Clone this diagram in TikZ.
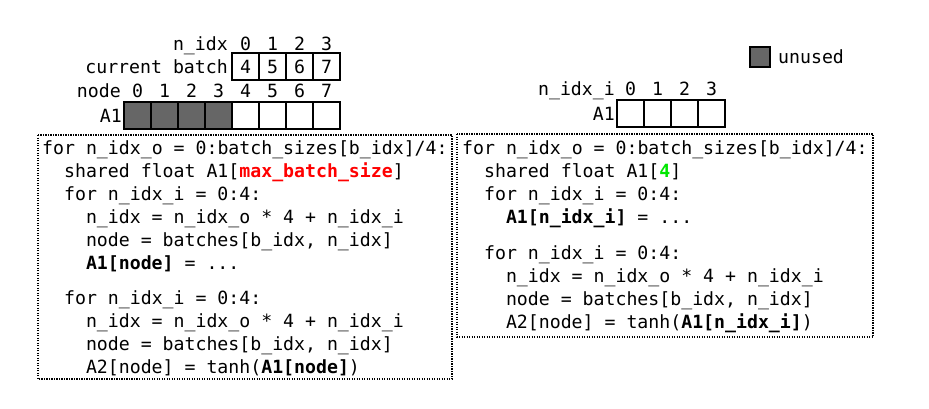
\documentclass[tikz,border=0pt]{standalone}
\usepackage{fontspec}
\setmonofont{DejaVu Sans Mono}
\newcommand\codefont{\ttfamily\fontsize{18.2}{23}\selectfont}
\definecolor{unusedgray}{gray}{0.4}
\definecolor{brightgreen}{RGB}{0,230,0}
\tikzset{
  code/.style={anchor=base west, inner sep=0pt, font=\codefont},
  lbl/.style={anchor=base east, inner sep=0pt, font=\codefont},
  idx/.style={anchor=base, inner sep=0pt, font=\codefont},
  cell/.style={draw, line width=1.1pt, minimum width=27pt, minimum height=27pt, inner sep=0pt, font=\codefont},
  unusedcell/.style={cell, fill=unusedgray},
  codebox/.style={draw, line width=1.1pt, dash pattern=on 1.1pt off 1.4pt},
}
\begin{document}
\begin{tikzpicture}[x=1pt,y=-1pt]
\useasboundingbox (0,0) rectangle (929,408);

% ---------- left array illustration ----------
\node[lbl] (lnidx) at (228,50) {n\_idx};
\node[lbl] (lcur) at (228,73) {current batch};
\node[lbl] (lnode) at (121,97) {node};
\node[lbl] (lA1) at (122,122) {A1};
\foreach \j/\v in {0/4,1/5,2/6,3/7}{
  \node[idx] (ni\j) at (245.5+27*\j,50) {\j};
  \node[cell] (cb\j) at (245.5+27*\j,66.5) {\v};
}
\foreach \i in {0,...,7}{
  \node[idx] (nd\i) at (137.5+27*\i,97) {\i};
}
\foreach \i in {0,...,3}{
  \node[unusedcell] (la\i) at (137.5+27*\i,115.5) {};
}
\foreach \i in {4,...,7}{
  \node[cell] (la\i) at (137.5+27*\i,115.5) {};
}

% ---------- right array illustration ----------
\node[unusedcell, minimum width=20pt, minimum height=20pt] (legbox) at (760,57) {};
\node[code] (legtext) at (778,63) {unused};
\node[lbl] (rnidx) at (615,95) {n\_idx\_i};
\node[lbl] (rA1) at (615,120) {A1};
\foreach \j in {0,...,3}{
  \node[idx] (rni\j) at (630.5+27*\j,95) {\j};
  \node[cell] (ra\j) at (630.5+27*\j,113.5) {};
}

% ---------- left code ----------
\draw[codebox] (38,135) rectangle (452,379);
\node[code] (l1) at (42,154) {for n\_idx\_o = 0:batch\_sizes[b\_idx]/4:};
\node[code] (l2) at (63.9,177) {shared float A1[{\bfseries\color{red}max\_batch\_size}]};
\node[code] (l3) at (63.9,200) {for n\_idx\_i = 0:4:};
\node[code] (l4) at (85.8,223) {n\_idx = n\_idx\_o * 4 + n\_idx\_i};
\node[code] (l5) at (85.8,246) {node = batches[b\_idx, n\_idx]};
\node[code] (l6) at (85.8,269) {\textbf{A1[node]} = ...};
\node[code] (l7) at (63.9,304) {for n\_idx\_i = 0:4:};
\node[code] (l8) at (85.8,327) {n\_idx = n\_idx\_o * 4 + n\_idx\_i};
\node[code] (l9) at (85.8,350) {node = batches[b\_idx, n\_idx]};
\node[code] (l10) at (85.8,373) {A2[node] = tanh(\textbf{A1[node]})};

% ---------- right code ----------
\draw[codebox] (457,134) rectangle (873,337);
\node[code] (r1) at (462,154) {for n\_idx\_o = 0:batch\_sizes[b\_idx]/4:};
\node[code] (r2) at (483.9,177) {shared float A1[{\bfseries\color{brightgreen}4}]};
\node[code] (r3) at (483.9,200) {for n\_idx\_i = 0:4:};
\node[code] (r4) at (505.8,223) {\textbf{A1[n\_idx\_i]} = ...};
\node[code] (r5) at (483.9,259) {for n\_idx\_i = 0:4:};
\node[code] (r6) at (505.8,282) {n\_idx = n\_idx\_o * 4 + n\_idx\_i};
\node[code] (r7) at (505.8,305) {node = batches[b\_idx, n\_idx]};
\node[code] (r8) at (505.8,328) {A2[node] = tanh(\textbf{A1[n\_idx\_i]})};
\end{tikzpicture}
\end{document}
